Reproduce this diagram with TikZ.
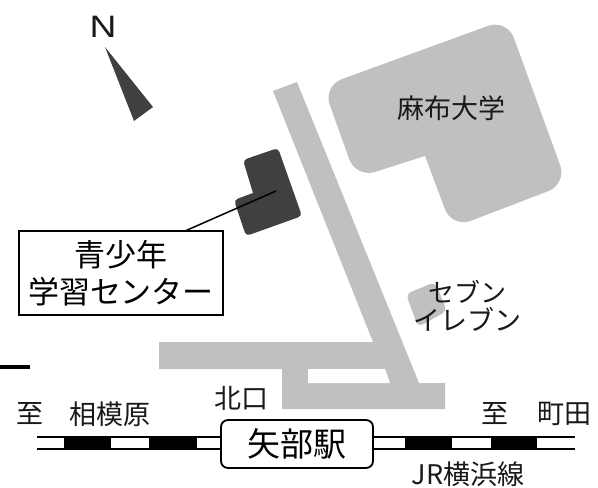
\documentclass[tikz,border=0pt]{standalone}
\usepackage{fontspec}
\setmainfont{Noto Sans CJK JP}
\newfontfamily\latinsans{Liberation Sans}
\definecolor{roadgray}{HTML}{C0C0C0}
\definecolor{darkb}{HTML}{404040}
\tikzset{
  road/.style={fill=roadgray,draw=none},
  bldg/.style={fill=roadgray,draw=none},
  dark/.style={fill=darkb,draw=none},
  rail/.style={draw=black,line width=1.7pt},
  tie/.style={fill=black,draw=none},
  txt/.style={inner sep=0pt,text=black!90},
  labelbox/.style={draw=black,line width=1.5pt,fill=white,minimum width=204pt,minimum height=84pt,inner sep=0pt,align=center},
  stationbox/.style={draw=black,line width=1.8pt,fill=white,rounded corners=7pt,minimum width=152pt,minimum height=48pt,inner sep=0pt},
}
\begin{document}
\begin{tikzpicture}[x=1pt,y=-1pt]
\useasboundingbox (0,0) rectangle (598,488);
% roads
\path[road] (273,91) -- (297,82) -- (419,383) -- (445,383) -- (445,409) -- (282,409) -- (282,369)
  -- (159,369) -- (159,342) -- (373,342) -- cycle;
\path[fill=white] (308,369) -- (385,369) -- (390,383) -- (308,383) -- cycle;
% university
\path[bldg,rounded corners=20pt] (425,156) -- (356,178) -- (323,86) -- (507,19) -- (567,184) -- (452,228) [sharp corners] -- cycle;
% seven eleven
\path[bldg,rounded corners=5pt] (406,294) -- (435,282) -- (447,311) -- (418,327) -- cycle;
% centre
\path[dark,rounded corners=4pt] (253,193) -- (234,200) -- (246,236) -- (302,216) -- (278,148) -- (243,160) [sharp corners] -- cycle;
% north arrow
\path[fill=darkb] (105,47) -- (153,107) -- (134,121) -- cycle;
\node[txt,font=\latinsans\fontsize{31}{31}\selectfont,xscale=1.2] (north) at (103,27) {N};
% label
\node[labelbox,font=\fontsize{31}{37}\selectfont] (label) at (121,273) {青少年\\学習センター};
\coordinate (leadA) at (185,231);
\coordinate (leadB) at (276,191);
\draw[line width=1.5pt] (leadA) -- (leadB);
% stub
\coordinate (stubA) at (0,367);
\coordinate (stubB) at (30,367);
\draw[line width=3.5pt] (stubA) -- (stubB);
% rail
\coordinate (r1a) at (37,437); \coordinate (r1b) at (575,437);
\coordinate (r2a) at (37,449); \coordinate (r2b) at (575,449);
\draw[rail] (r1a) -- (r1b);
\draw[rail] (r2a) -- (r2b);
\foreach \xa/\xb in {64/111,149/197,405/452,491/537}
  \path[tie] (\xa,437) rectangle (\xb,449);
\node[stationbox,font=\fontsize{33}{33}\selectfont] (station) at (297,444) {矢部駅};
% labels
\node[txt,font=\fontsize{27}{27}\selectfont] (univ) at (451,108) {麻布大学};
\node[txt,font=\fontsize{26}{26}\selectfont] (se1) at (467,292) {セブン};
\node[txt,font=\fontsize{27}{27}\selectfont] (se2) at (467,319) {イレブン};
\node[txt,font=\fontsize{27}{27}\selectfont] (kita) at (241,398) {北口};
\node[txt,font=\fontsize{27}{27}\selectfont] (to1) at (30,414) {至};
\node[txt,font=\fontsize{27}{27}\selectfont] (sagami) at (110,414) {相模原};
\node[txt,font=\fontsize{27}{27}\selectfont] (to2) at (495,414) {至};
\node[txt,font=\fontsize{27}{27}\selectfont] (machida) at (564,414) {町田};
\node[txt,font=\fontsize{27}{27}\selectfont] (jr) at (468,474) {JR横浜線};
\end{tikzpicture}
\end{document}
